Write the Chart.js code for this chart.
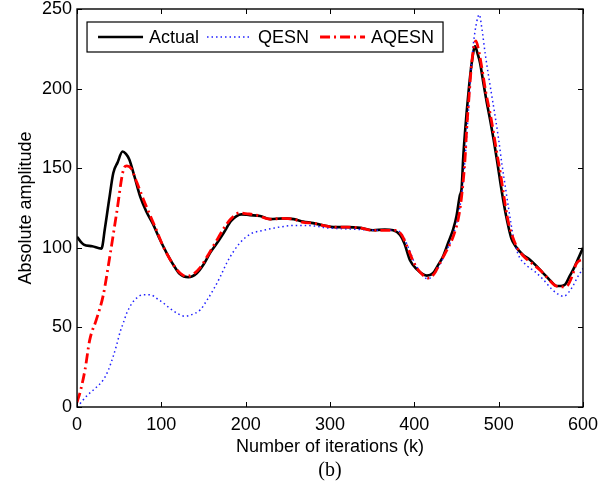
<!DOCTYPE html>
<html>
<head>
<meta charset="utf-8">
<script src="https://cdn.jsdelivr.net/npm/chart.js@4.4.0/dist/chart.umd.min.js"></script>
<style>
  html, body { margin: 0; padding: 0; background: #fff; }
  #box { width: 616px; height: 485px; }
</style>
</head>
<body>
<div id="box"><canvas id="grafico"></canvas></div>
<script>
// valores (b)
const xTicks = [0, 100, 200, 300, 400, 500, 600];
const yTicks = [0, 50, 100, 150, 200, 250];

const xActual = [0, 4, 8, 18, 29, 33, 38, 43, 48, 54, 58, 62, 68, 75, 82, 90, 98, 106, 114, 122, 132, 142, 150, 158, 166, 174, 183, 195, 205, 217, 229, 245, 257, 268, 280, 293, 304, 320, 336, 351, 365, 375, 383, 388, 395, 403, 410, 415, 422, 428, 434, 440, 446, 450, 454, 456, 458, 460, 462, 465, 468, 472, 475, 478, 482, 486, 490, 494, 498, 502, 506, 510, 515, 520, 528, 537, 545, 553, 561, 569, 574, 579, 584, 590, 595, 600];
const yActual = [107, 104, 102, 101, 99.5, 112, 130, 147, 153.5, 160.5, 159, 155.5, 145, 132, 123, 115, 105.5, 97, 89.5, 83.5, 81.5, 84, 89.5, 97, 103, 109.5, 117, 121, 120.5, 120, 118, 118.5, 118, 116.5, 115.5, 114, 113, 113, 112.5, 111, 111.5, 111, 108, 103, 92, 86.5, 83.5, 82.5, 84, 89, 94.5, 103, 111.5, 120, 133, 137, 157, 172, 185, 202, 216, 226.5, 222, 216, 203, 191, 180, 168, 155, 141, 128, 117, 106, 101, 96, 92.5, 88.5, 84, 79.5, 76, 76, 77, 82, 88, 94, 100];

const xQesn = [0, 5, 11.5, 20, 31, 37, 43, 47, 51, 55, 59, 65, 71, 78, 87, 95, 102, 110, 120, 128, 136, 146, 154, 162, 170, 178, 186, 193, 201, 209, 217, 225, 240, 256, 270, 285, 296, 315, 335, 351, 365, 378, 386, 393, 400, 408, 416, 424, 431, 438, 446, 452, 456, 460, 464, 467, 470, 474, 477, 480, 484, 488, 492, 496, 500, 504, 508, 512, 517, 523, 533, 543, 553, 563, 570, 577, 583, 588, 594, 600];
const yQesn = [0, 3, 7, 11, 17, 23, 32, 39, 47, 53, 59, 65, 68.5, 70.5, 70.5, 68, 65.5, 62, 58.5, 57, 58, 61, 67, 74, 82, 91, 98, 103, 107, 109.5, 110.5, 111.5, 113, 114, 114, 113.5, 112.5, 112, 111.5, 111, 111, 111, 108, 100, 91, 84, 80.5, 84, 90, 98, 108, 120, 133, 155, 185, 210, 228, 242, 246.5, 238, 222, 208, 195, 182, 168, 152, 138, 124, 108, 96, 89, 85, 80, 74, 71, 69.5, 72, 76, 82, 87];

const xAqesn = [0, 4, 9.5, 15, 23, 31, 39, 47, 55, 59, 64, 71, 79, 87, 95, 102, 110, 118, 125, 130, 138, 146, 156, 166, 175, 182, 193, 200, 213, 229, 245, 257, 268, 280, 293, 304, 320, 336, 351, 365, 378, 385, 392, 400, 408, 416.6, 424, 430, 438, 446, 452, 456, 460, 462, 465, 468, 473, 477, 481, 485, 490, 494, 498, 502, 506, 510, 514, 522, 529, 540, 549, 558, 568, 575, 581, 587, 592, 600];
const yAqesn = [3, 10, 23.5, 42, 55, 70, 95, 122, 149, 151.5, 150, 141, 130, 120, 110, 101, 93, 86.5, 83, 82, 83.5, 87.5, 96, 105, 113, 118, 122, 121.5, 120.5, 118, 118.5, 118, 116, 115.5, 114, 113, 113, 112.5, 111, 111, 111, 108, 100, 90, 84, 81, 84, 90, 98, 107, 118, 132, 155, 174, 196, 216, 230, 222, 210, 197, 184, 172, 159, 147, 133, 120, 111, 100, 95, 90, 86, 81, 76, 75.5, 76, 82, 90, 93];

function pontos(xs, ys) {
    return xs.map((x, i) => ({ x: x, y: ys[i] }));
}

const fonte = "'Liberation Sans', Arial, sans-serif";

// ticks para dentro nos quatro lados + moldura + legenda + "(b)"
const molduraPlugin = {
    id: 'moldura',
    afterDraw(chart) {
        const ctx = chart.ctx;
        const a = chart.chartArea;
        const sx = chart.scales.x;
        const sy = chart.scales.y;
        const t = 5;
        ctx.save();
        ctx.strokeStyle = '#000';
        ctx.lineWidth = 1;
        ctx.beginPath();
        xTicks.forEach(v => {
            const px = Math.round(sx.getPixelForValue(v)) + 0.5;
            ctx.moveTo(px, a.bottom); ctx.lineTo(px, a.bottom - t);
            ctx.moveTo(px, a.top); ctx.lineTo(px, a.top + t);
        });
        yTicks.forEach(v => {
            const py = Math.round(sy.getPixelForValue(v)) + 0.5;
            ctx.moveTo(a.left, py); ctx.lineTo(a.left + t, py);
            ctx.moveTo(a.right, py); ctx.lineTo(a.right - t, py);
        });
        ctx.stroke();
        ctx.lineWidth = 1.4;
        ctx.strokeRect(a.left, a.top, a.right - a.left, a.bottom - a.top);

        // legenda
        const lx = a.left + 10, ly = a.top + 13, lw = 356, lh = 30;
        ctx.fillStyle = '#fff';
        ctx.fillRect(lx, ly, lw, lh);
        ctx.lineWidth = 1.2;
        ctx.strokeRect(lx, ly, lw, lh);
        const inicios = [11, 120, 233];
        ctx.font = '18px ' + fonte;
        ctx.textBaseline = 'middle';
        chart.data.datasets.forEach((ds, i) => {
            const x1 = lx + inicios[i];
            const yy = ly + lh / 2;
            ctx.strokeStyle = ds.borderColor;
            ctx.lineWidth = ds.borderWidth;
            ctx.setLineDash(ds.borderDash || []);
            ctx.beginPath();
            ctx.moveTo(x1, yy);
            ctx.lineTo(x1 + 45, yy);
            ctx.stroke();
            ctx.setLineDash([]);
            ctx.fillStyle = '#000';
            ctx.fillText(ds.label, x1 + 51, yy + 1);
        });

        ctx.font = "20px 'Liberation Serif', 'Times New Roman', serif";
        ctx.textAlign = 'center';
        ctx.fillStyle = '#000';
        ctx.fillText('(b)', (a.left + a.right) / 2, 471);
        ctx.restore();
    }
};

const grafico = document.getElementById('grafico');
new Chart(grafico, {
    type: 'line',
    data: {
        datasets: [{
            label: 'Actual',
            data: pontos(xActual, yActual),
            borderColor: '#000000',
            borderWidth: 2.6,
            order: 3
        }, {
            label: 'QESN',
            data: pontos(xQesn, yQesn),
            borderColor: 'rgb(30, 30, 255)',
            borderWidth: 1.5,
            borderDash: [1.5, 3],
            order: 2
        }, {
            label: 'AQESN',
            data: pontos(xAqesn, yAqesn),
            borderColor: '#ff0000',
            borderWidth: 2.8,
            borderDash: [10, 4, 2, 4],
            order: 1
        }]
    },
    options: {
        responsive: true,
        maintainAspectRatio: false,
        animation: false,
        elements: {
            point: { radius: 0 },
            line: { cubicInterpolationMode: 'monotone', fill: false }
        },
        layout: { padding: { left: 15.4, right: 33, top: 9, bottom: 26.8 } },
        plugins: {
            legend: { display: false },
            tooltip: { enabled: false }
        },
        scales: {
            x: {
                type: 'linear',
                min: 0,
                max: 600,
                afterBuildTicks: (s) => { s.ticks = xTicks.map(v => ({ value: v })); },
                grid: { display: false, drawTicks: false },
                border: { display: false },
                ticks: { color: '#000', padding: 7, font: { family: fonte, size: 18 } },
                title: {
                    display: true,
                    text: 'Number of iterations (k)',
                    color: '#000',
                    padding: { top: -6, bottom: 0 },
                    font: { family: fonte, size: 18 }
                }
            },
            y: {
                min: 0,
                max: 250,
                afterBuildTicks: (s) => { s.ticks = yTicks.map(v => ({ value: v })); },
                grid: { display: false, drawTicks: false },
                border: { display: false },
                ticks: { color: '#000', padding: 5, font: { family: fonte, size: 18, lineHeight: 0.4 } },
                title: {
                    display: true,
                    text: 'Absolute amplitude',
                    color: '#000',
                    padding: { top: 0, bottom: 0 },
                    font: { family: fonte, size: 18 }
                }
            }
        }
    },
    plugins: [molduraPlugin]
});
</script>
</body>
</html>
